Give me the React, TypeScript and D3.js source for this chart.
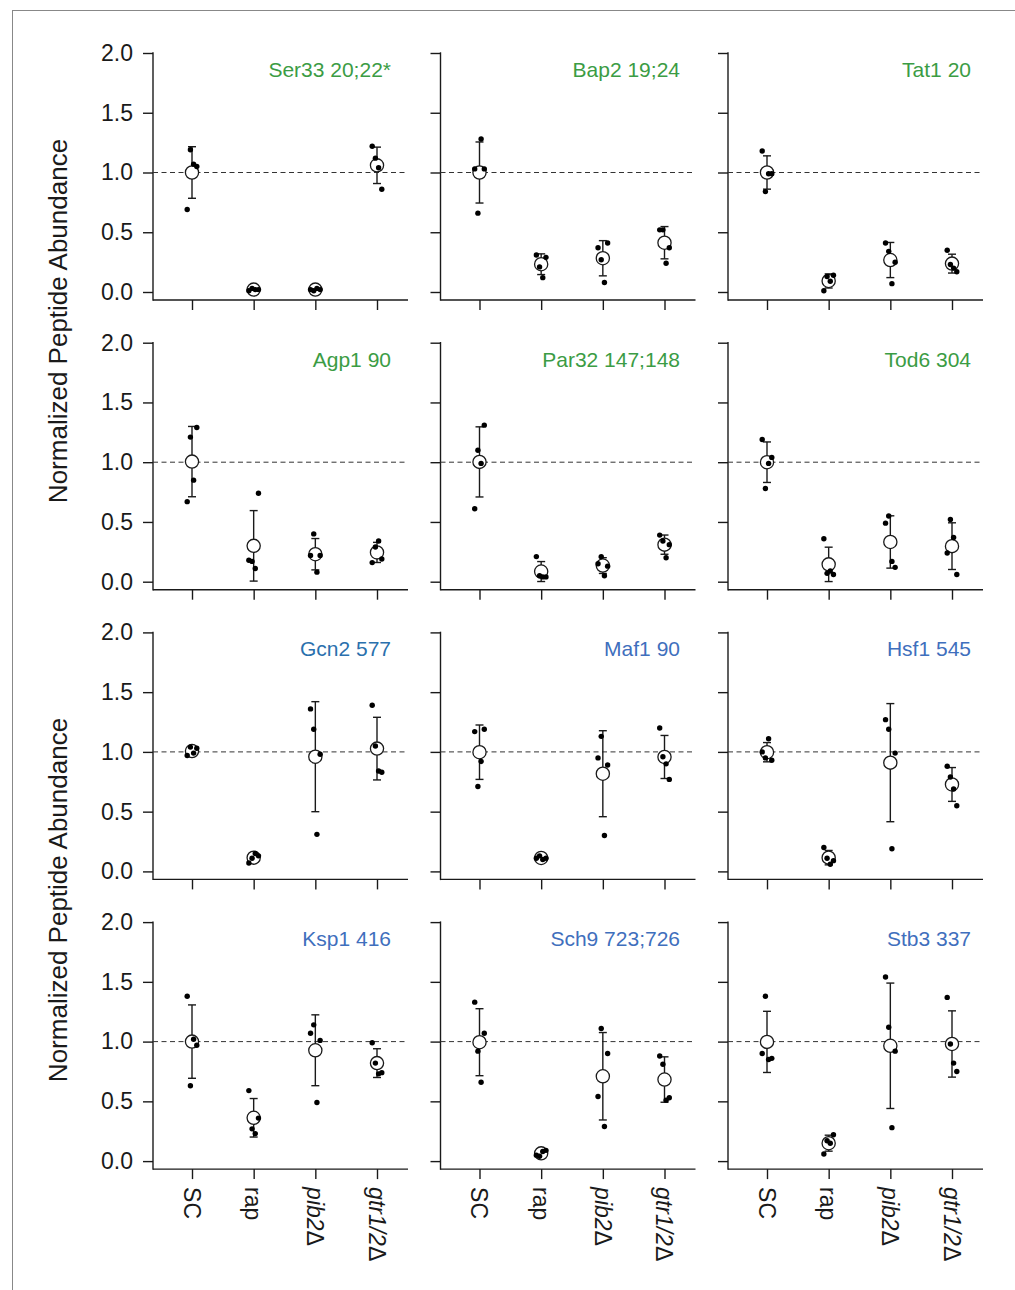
import React, { useEffect, useRef } from 'react';
import * as d3 from 'd3';

// conditions on the x axis
const categories = ['SC', 'rap', 'pib2', 'gtr1/2'];
const italicCats = [false, false, true, true];
const yTicks = [0, 0.5, 1.0, 1.5, 2.0];

const panelTitles = [
  'Ser33 20;22*', 'Bap2 19;24', 'Tat1 20',
  'Agp1 90', 'Par32 147;148', 'Tod6 304',
  'Gcn2 577', 'Maf1 90', 'Hsf1 545',
  'Ksp1 416', 'Sch9 723;726', 'Stb3 337',
];
const titleColors = [
  '#3b9c44', '#3b9c44', '#3b9c44',
  '#3b9c44', '#3b9c44', '#3b9c44',
  '#2a70ad', '#3f6fbd', '#3f6fbd',
  '#3f6fbd', '#3f6fbd', '#3f6fbd',
];

// replicate values per condition (SC, rap, pib2, gtr1/2)
const ser33 = [[0.69, 1.19, 1.07, 1.05], [0.01, 0.03, 0.02, 0.02], [0.02, 0.01, 0.03, 0.02], [1.22, 1.12, 1.04, 0.86]];
const bap2 = [[1.03, 0.66, 1.28, 1.03], [0.31, 0.21, 0.12, 0.29], [0.37, 0.27, 0.08, 0.41], [0.52, 0.52, 0.24, 0.37]];
const tat1 = [[1.18, 0.84, 0.99, 0.99], [0.01, 0.13, 0.09, 0.14], [0.41, 0.34, 0.07, 0.25], [0.35, 0.23, 0.20, 0.17]];
const agp1 = [[0.67, 1.21, 0.85, 1.29], [0.18, 0.17, 0.11, 0.74], [0.22, 0.40, 0.08, 0.22], [0.16, 0.29, 0.34, 0.19]];
const par32 = [[0.61, 1.10, 0.99, 1.31], [0.21, 0.05, 0.04, 0.04], [0.15, 0.21, 0.05, 0.13], [0.39, 0.34, 0.20, 0.31]];
const tod6 = [[1.19, 0.78, 0.99, 1.04], [0.36, 0.07, 0.09, 0.06], [0.49, 0.55, 0.17, 0.12], [0.24, 0.52, 0.37, 0.06]];
const gcn2 = [[0.97, 1.04, 0.99, 1.03], [0.07, 0.11, 0.15, 0.13], [1.36, 1.19, 0.31, 0.98], [1.39, 1.05, 0.84, 0.83]];
const maf1 = [[1.17, 0.71, 0.92, 1.19], [0.11, 0.13, 0.10, 0.11], [0.95, 1.13, 0.30, 0.89], [1.20, 0.96, 0.90, 0.77]];
const hsf1 = [[1.00, 0.95, 1.11, 0.93], [0.20, 0.11, 0.06, 0.09], [1.27, 1.19, 0.19, 0.99], [0.88, 0.79, 0.69, 0.55]];
const ksp1 = [[1.38, 0.63, 1.02, 0.97], [0.59, 0.27, 0.23, 0.36], [1.07, 1.14, 0.49, 1.01], [0.99, 0.82, 0.73, 0.74]];
const sch9 = [[1.33, 0.92, 0.66, 1.07], [0.05, 0.04, 0.08, 0.09], [0.54, 1.11, 0.29, 0.90], [0.88, 0.81, 0.51, 0.53]];
const stb3 = [[0.90, 1.38, 0.85, 0.86], [0.06, 0.17, 0.15, 0.22], [1.54, 1.12, 0.28, 0.92], [1.37, 0.98, 0.82, 0.75]];

const panelValues = [ser33, bap2, tat1, agp1, par32, tod6, gcn2, maf1, hsf1, ksp1, sch9, stb3];

const FONT = '"Liberation Sans", Arial, Helvetica, sans-serif';
const INK = '#1a1a1a';

const App = () => {
  const ref = useRef<SVGSVGElement>(null);

  useEffect(() => {
    const svg = d3.select(ref.current);
    svg.selectAll('*').remove();

    // figure frame
    svg.append('line').attr('x1', 12).attr('x2', 1015).attr('y1', 10.5).attr('y2', 10.5)
      .attr('stroke', '#888').attr('stroke-width', 1);
    svg.append('line').attr('x1', 12.5).attr('x2', 12.5).attr('y1', 10).attr('y2', 1290)
      .attr('stroke', '#888').attr('stroke-width', 1);

    const slots = [-3, -1, 1, 3];
    const titleRight = [391, 680, 971];

    panelValues.forEach((groups, i) => {
      const col = i % 3;
      const row = Math.floor(i / 3);
      const ox = 153 + col * 287.5;
      const oy = 53 + row * 289.7;
      const bottom = oy + 247;

      const y = d3.scaleLinear().domain([0, 2]).range([oy + 239, oy]);
      const x = d3.scalePoint<string>().domain(categories).range([ox + 39, ox + 224]);

      const g = svg.append('g');

      // left axis
      const yAxis = d3.axisLeft(y)
        .tickValues(yTicks)
        .tickSize(10)
        .tickPadding(10)
        .tickFormat(col === 0 ? d3.format('.1f') : () => '');
      const ya = g.append('g').attr('transform', `translate(${ox},0)`).call(yAxis);
      ya.select('.domain').remove();
      ya.selectAll('line').attr('stroke', INK).attr('stroke-width', 1.4);
      ya.selectAll('text').attr('font-family', FONT).attr('font-size', 23).attr('fill', INK);
      g.append('line').attr('x1', ox).attr('x2', ox).attr('y1', oy - 0.7).attr('y2', bottom + 0.7)
        .attr('stroke', INK).attr('stroke-width', 1.4);

      // bottom axis
      const xAxis = d3.axisBottom(x).tickSize(10).tickFormat(() => '');
      const xa = g.append('g').attr('transform', `translate(0,${bottom})`).call(xAxis);
      xa.select('.domain').remove();
      xa.selectAll('line').attr('stroke', INK).attr('stroke-width', 1.4);
      g.append('line').attr('x1', ox).attr('x2', ox + 255).attr('y1', bottom).attr('y2', bottom)
        .attr('stroke', INK).attr('stroke-width', 1.4);

      // reference line at 1.0
      g.append('line').attr('x1', ox).attr('x2', ox + 255).attr('y1', y(1)).attr('y2', y(1))
        .attr('stroke', '#333').attr('stroke-width', 1).attr('stroke-dasharray', '5,3.5');

      // title
      g.append('text')
        .attr('x', titleRight[col]).attr('y', oy + 24)
        .attr('text-anchor', 'end')
        .attr('font-family', FONT).attr('font-size', 21)
        .attr('fill', titleColors[i])
        .text(panelTitles[i]);

      groups.forEach((vals, k) => {
        const cx = x(categories[k]) as number;
        const m = d3.mean(vals) as number;
        const sd = d3.deviation(vals) as number;
        // error bar
        g.append('line').attr('x1', cx).attr('x2', cx).attr('y1', y(m + sd)).attr('y2', y(m - sd))
          .attr('stroke', INK).attr('stroke-width', 1.4);
        [m + sd, m - sd].forEach(v => {
          g.append('line').attr('x1', cx - 4).attr('x2', cx + 4).attr('y1', y(v)).attr('y2', y(v))
            .attr('stroke', INK).attr('stroke-width', 1.4);
        });
        // mean
        g.append('circle').attr('cx', cx).attr('cy', y(m)).attr('r', 6.6)
          .attr('fill', '#fff').attr('stroke', INK).attr('stroke-width', 1.3);
        // replicates
        vals.forEach((v, j) => {
          g.append('circle').attr('cx', cx + slots[j] * 1.6).attr('cy', y(v)).attr('r', 2.7)
            .attr('fill', '#000');
        });
      });

      // category labels under bottom row
      if (row === 3) {
        categories.forEach((c, k) => {
          const cx = x(c) as number;
          const t = g.append('text')
            .attr('transform', `translate(${cx},${bottom + 18}) rotate(90)`)
            .attr('dy', '0.36em')
            .attr('font-family', FONT).attr('font-size', 23).attr('fill', INK);
          t.append('tspan').attr('font-style', italicCats[k] ? 'italic' : 'normal').text(c);
          if (italicCats[k]) t.append('tspan').text('Δ');
        });
      }
    });

    // y axis titles
    [321, 900].forEach(cy => {
      svg.append('text')
        .attr('transform', `translate(67,${cy}) rotate(-90)`)
        .attr('text-anchor', 'middle')
        .attr('font-family', FONT).attr('font-size', 26).attr('fill', INK)
        .text('Normalized Peptide Abundance');
    });
  }, []);

  return (
    <svg ref={ref} width={1015} height={1290}
      style={{ position: 'absolute', left: 0, top: 0, background: '#fff' }} />
  );
};

export default App;
